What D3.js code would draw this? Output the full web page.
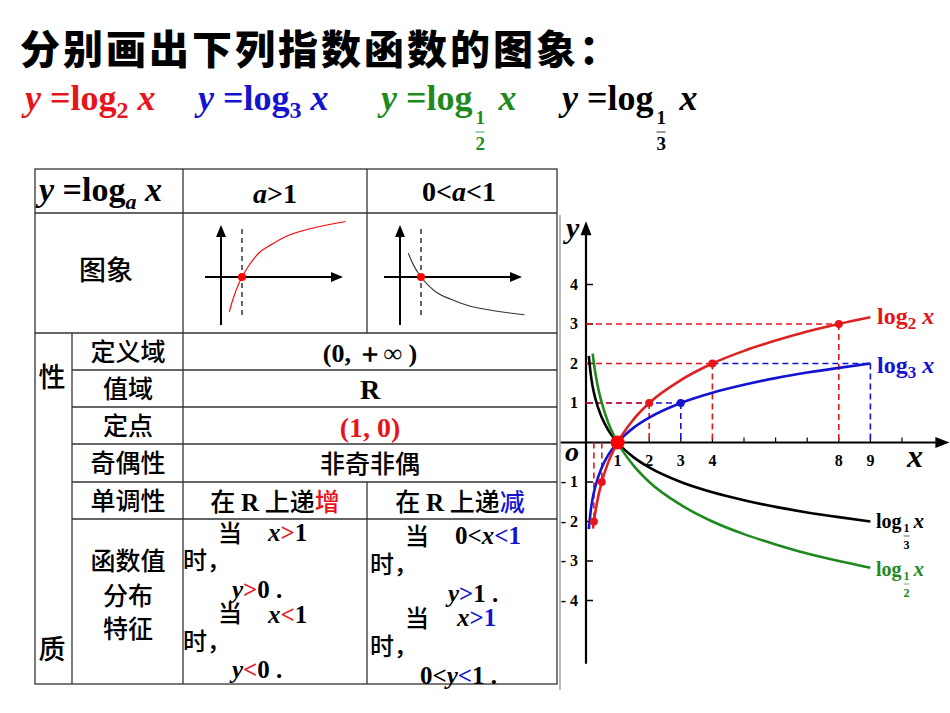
<!DOCTYPE html>
<html><head><meta charset="utf-8">
<script src="https://cdn.jsdelivr.net/npm/d3@7"></script>
<style>body{margin:0;background:#fff}svg{display:block}</style>
</head><body><svg id="c" width="950" height="713"></svg>
<script>
// ---- data ----
const xTicks=[1,2,3,4,8,9];
const xMinor=[5,6,7,10];
const yTicks=[4,3,2,1,-1,-2,-3,-4];
const log2X=[0.22,0.25,0.3,0.4,0.5,0.7,1,1.5,2,3,4,5,6,7,8,9];
const log2Y=[-2.18,-2,-1.74,-1.32,-1,-0.51,0,0.58,1,1.58,2,2.32,2.58,2.81,3,3.17];
const log3X=[0.09,0.15,0.2,0.3,0.5,0.7,1,1.5,2,3,4,5,6,7,8,9];
const log3Y=[-2.19,-1.73,-1.46,-1.1,-0.63,-0.32,0,0.37,0.63,1,1.26,1.46,1.63,1.77,1.89,2];
const logHalfX=[0.21,0.25,0.3,0.4,0.5,0.7,1,1.5,2,3,4,5,6,7,8,9];
const logHalfY=[2.25,2,1.74,1.32,1,0.51,0,-0.58,-1,-1.58,-2,-2.32,-2.58,-2.81,-3,-3.17];
const logThirdX=[0.09,0.15,0.2,0.3,0.5,0.7,1,1.5,2,3,4,5,6,7,8,9];
const logThirdY=[2.19,1.73,1.46,1.1,0.63,0.32,0,-0.37,-0.63,-1,-1.26,-1.46,-1.63,-1.77,-1.89,-2];
const redDots=[[0.25,-2],[0.5,-1],[2,1],[4,2],[8,3]];
const blueDots=[[3,1]];
const miniX=[0.45,0.55,0.7,0.85,1,1.3,1.7,2.3,3,4,5.5];
const miniY=[-1.4,-1.06,-0.64,-0.29,0,0.46,0.93,1.31,1.66,1.94,2.22];

const svg=d3.select("#c");
const SERIF="'Liberation Serif','DejaVu Serif',serif";
const CJK="'Noto Sans CJK SC',sans-serif";
const RED="#e8141b",BLUE="#1414d0",GREEN="#1e8a1e";

// ---- title ----
svg.append("text").attr("x",20).attr("y",64).attr("font-family",CJK).attr("font-weight",900)
 .attr("font-size",40).attr("letter-spacing",3).text("分别画出下列指数函数的图象：");
function formula(x,y,color,base,frac){
  const t=svg.append("text").attr("x",x).attr("y",y).attr("font-family",SERIF).attr("font-weight","bold")
    .attr("font-size",36).attr("fill",color);
  t.append("tspan").attr("font-style","italic").text("y");
  t.append("tspan").text(" =log");
  if(!frac){
    t.append("tspan").attr("font-size",24).attr("dy",8).text(base);
    t.append("tspan").attr("dy",-8).text(" ");
    t.append("tspan").attr("font-style","italic").text("x");
  } else {
    const bb=t.node().getComputedTextLength();
    svg.append("text").attr("x",x+bb+3).attr("y",y+14).attr("font-family",SERIF).attr("font-weight","bold").attr("font-size",19).attr("fill",color).text("1");
    svg.append("line").attr("x1",x+bb+3).attr("x2",x+bb+12).attr("y1",y+22).attr("y2",y+22).attr("stroke",color).attr("stroke-width",0.8);
    svg.append("text").attr("x",x+bb+3).attr("y",y+40).attr("font-family",SERIF).attr("font-weight","bold").attr("font-size",19).attr("fill",color).text(base);
    svg.append("text").attr("x",x+bb+26).attr("y",y).attr("font-family",SERIF).attr("font-weight","bold").attr("font-style","italic").attr("font-size",36).attr("fill",color).text("x");
  }
}
formula(25,110,RED,"2",false);
formula(198,110,BLUE,"3",false);
formula(381,110,GREEN,"2",true);
formula(562,110,"#000","3",true);

// ---- table ----
const rowY=[169,213,333,370,407,444,482,519,684];
const g=svg.append("g").attr("stroke","#333").attr("stroke-width",1.3);
g.append("rect").attr("x",35).attr("y",169).attr("width",522).attr("height",515).attr("fill","none");
rowY.slice(1,8).forEach((y,i)=>{
  const x0=i<2?35:72;
  g.append("line").attr("x1",x0).attr("x2",557).attr("y1",y).attr("y2",y);
});
g.append("line").attr("x1",72).attr("x2",72).attr("y1",333).attr("y2",684);
g.append("line").attr("x1",183).attr("x2",183).attr("y1",169).attr("y2",684);
g.append("line").attr("x1",367).attr("x2",367).attr("y1",169).attr("y2",333);
g.append("line").attr("x1",367).attr("x2",367).attr("y1",482).attr("y2",684);

function T(x,y,s,opt={}){
  return svg.append("text").attr("x",x).attr("y",y).attr("font-family",opt.f||CJK)
    .attr("font-weight",opt.w||"bold").attr("font-size",opt.s||24).attr("text-anchor",opt.a||"middle")
    .attr("fill",opt.c||"#000").attr("font-style",opt.i?"italic":null).text(s);
}
{const t=T(39,201,"",{f:SERIF,s:34,a:"start"});
 t.append("tspan").attr("font-style","italic").text("y");
 t.append("tspan").text(" =log");
 t.append("tspan").attr("font-size",22).attr("font-style","italic").attr("dy",8).text("a");
 t.append("tspan").attr("dy",-8).text(" ");
 t.append("tspan").attr("font-style","italic").text("x");}
{const t=T(275,203,"",{f:SERIF,s:28});t.append("tspan").attr("font-style","italic").text("a");t.append("tspan").text(">1");}
{const t=T(459,201,"",{f:SERIF,s:28});t.append("tspan").text("0<");t.append("tspan").attr("font-style","italic").text("a");t.append("tspan").text("<1");}
const CW=500;
T(106,280,"图象",{s:27,w:CW});
T(52,387,"性",{s:27,w:CW});T(52,659,"质",{s:27,w:CW});
const rowLabels=["定义域","值域","定点","奇偶性","单调性"];
rowLabels.forEach((s,i)=>T(128,(rowY[i+2]+rowY[i+3])/2+9,s,{s:25,w:CW}));
T(370,362,"(0,  ＋∞ )",{f:SERIF,s:26});
T(370,399,"R",{f:SERIF,s:28});
T(370,437,"(1, 0)",{f:SERIF,s:28,c:RED});
T(370,473,"非奇非偶",{s:25,w:CW});
{const t=T(275,511,"",{s:25,w:CW});t.append("tspan").text("在 ");t.append("tspan").attr("font-family",SERIF).attr("font-weight","bold").text("R");t.append("tspan").text(" 上递");t.append("tspan").attr("fill",RED).text("增");}
{const t=T(460,511,"",{s:25,w:CW});t.append("tspan").text("在 ");t.append("tspan").attr("font-family",SERIF).attr("font-weight","bold").text("R");t.append("tspan").text(" 上递");t.append("tspan").attr("fill",BLUE).text("减");}
T(128,570,"函数值",{s:25,w:CW});T(128,605,"分布",{s:25,w:CW});T(128,638,"特征",{s:25,w:CW});
function mixed(x,y,parts){
  const t=T(x,y,"",{f:SERIF,s:25,a:"start"});
  parts.forEach(p=>{const s=t.append("tspan").text(p[0]);if(p[1])s.attr("fill",p[1]);if(p[2])s.attr("font-style","italic");});
  return t;
}
T(218,542,"当",{s:24,a:"start",w:CW});mixed(268,541,[["x",null,1],[">",RED],["1"]]);
T(183,569,"时，",{s:24,a:"start",w:CW});mixed(232,598,[["y",null,1],[">",RED],["0 ."]]);
T(218,622,"当",{s:24,a:"start",w:CW});mixed(268,623,[["x",null,1],["<",RED],["1"]]);
T(183,650,"时，",{s:24,a:"start",w:CW});mixed(232,678,[["y",null,1],["<",RED],["0 ."]]);
T(405,545,"当",{s:24,a:"start",w:CW});mixed(455,544,[["0<"],["x",null,1],["<1",BLUE]]);
T(370,573,"时，",{s:24,a:"start",w:CW});mixed(448,602,[["y",null,1],[">",BLUE],["1 ."]]);
T(405,627,"当",{s:24,a:"start",w:CW});mixed(457,626,[["x",null,1],[">1",BLUE]]);
T(370,655,"时，",{s:24,a:"start",w:CW});mixed(420,684,[["0<"],["y",null,1],["<",BLUE],["1 ."]]);

function mini(ox,oy,color,inc){
  const xs=d3.scaleLinear().domain([0,1]).range([ox,ox+23]);
  const ys=d3.scaleLinear().domain([0,1]).range([oy,oy-(inc?25:17)]);
  const mg=svg.append("g");
  mg.append("line").attr("x1",ox-14).attr("x2",ox+122).attr("y1",oy).attr("y2",oy).attr("stroke","#000").attr("stroke-width",2);
  mg.append("path").attr("d",`M${ox+124},${oy}l-12,-5v10z`);
  mg.append("line").attr("x1",ox+2).attr("x2",ox+2).attr("y1",oy+48).attr("y2",oy-46).attr("stroke","#000").attr("stroke-width",2);
  mg.append("path").attr("d",`M${ox+2},${oy-52}l-5,12h10z`);
  mg.append("line").attr("x1",ox+23).attr("x2",ox+23).attr("y1",oy-48).attr("y2",oy+40).attr("stroke","#000").attr("stroke-dasharray","5,4").attr("stroke-width",1.2);
  const line=d3.line().x(d=>xs(d)).y((d,i)=>ys(inc?miniY[i]:-miniY[i])).curve(d3.curveMonotoneX);
  mg.append("path").attr("d",line(miniX)).attr("fill","none").attr("stroke",color).attr("stroke-width",1.1);
  mg.append("circle").attr("cx",ox+23).attr("cy",oy).attr("r",4).attr("fill","red");
}
mini(219,277,"red",true);
mini(398,277,"#333",false);

const x=d3.scaleLinear().domain([0,1]).range([586,617.6]);
const y=d3.scaleLinear().domain([0,1]).range([442.5,403]);
svg.append("line").attr("x1",560).attr("x2",560).attr("y1",215).attr("y2",690).attr("stroke","#777").attr("stroke-width",1);
svg.append("line").attr("x1",x(-0.8)).attr("x2",x(11.1)).attr("y1",y(0)).attr("y2",y(0)).attr("stroke","#000").attr("stroke-width",2.2);
svg.append("path").attr("d",`M${x(11.5)},${y(0)}l-14,-5.5v11z`);
svg.append("line").attr("x1",x(0)).attr("x2",x(0)).attr("y1",y(-5.6)).attr("y2",y(5.3)).attr("stroke","#000").attr("stroke-width",2.2);
svg.append("path").attr("d",`M${x(0)},${y(5.6)}l-5.5,14h11z`);
xTicks.concat(xMinor).forEach(v=>svg.append("line").attr("x1",x(v)).attr("x2",x(v)).attr("y1",y(0)).attr("y2",y(0)-5).attr("stroke","#000").attr("stroke-width",1.2));
yTicks.forEach(v=>svg.append("line").attr("x1",x(0)).attr("x2",x(0)+7).attr("y1",y(v)).attr("y2",y(v)).attr("stroke","#000").attr("stroke-width",1.5));
xTicks.forEach(v=>T(x(v),466,String(v),{f:SERIF,s:16}));
yTicks.forEach(v=>T(x(0)-8,y(v)+5,v<0?"- "+(-v):String(v),{f:SERIF,s:16,a:"end"}));
T(566,238,"y",{f:SERIF,s:30,i:1,a:"start"});
T(565,461,"o",{f:SERIF,s:28,i:1,a:"start"});
T(907,467,"x",{f:SERIF,s:32,i:1,a:"start"});

function dash(x1,y1,x2,y2,c){svg.append("line").attr("x1",x(x1)).attr("y1",y(y1)).attr("x2",x(x2)).attr("y2",y(y2)).attr("stroke",c).attr("stroke-width",1.6).attr("stroke-dasharray","6,4");}
dash(0,3,8,3,RED);dash(0,2,4,2,RED);dash(4,2,9,2,BLUE);dash(0,1,3,1,BLUE);dash(0,1,2,1,RED);
dash(2,1,2,0,RED);dash(4,2,4,0,RED);dash(8,3,8,0,RED);dash(3,1,3,0,BLUE);dash(9,2,9,0,BLUE);
dash(0.25,0,0.25,-2,RED);dash(0.5,0,0.5,-1,RED);

function curve(xs,ys,c){
  const l=d3.line().x(d=>x(d)).y((d,i)=>y(ys[i])).curve(d3.curveMonotoneX);
  svg.append("path").attr("d",l(xs)).attr("fill","none").attr("stroke",c).attr("stroke-width",2.6);
}
curve(logThirdX,logThirdY,"#000");
curve(logHalfX,logHalfY,GREEN);
curve(log3X,log3Y,BLUE);
curve(log2X,log2Y,"#dd2222");
redDots.forEach(d=>svg.append("circle").attr("cx",x(d[0])).attr("cy",y(d[1])).attr("r",4).attr("fill",RED));
blueDots.forEach(d=>svg.append("circle").attr("cx",x(d[0])).attr("cy",y(d[1])).attr("r",4).attr("fill",BLUE));
svg.append("circle").attr("cx",x(1)).attr("cy",y(0)).attr("r",7).attr("fill","red");

function clabel(px,py,c,base,frac){
  const t=T(px,py,"",{f:SERIF,s:frac?20:24,c:c,a:"start"});
  t.append("tspan").text("log");
  if(!frac){t.append("tspan").attr("font-size",17).attr("dy",5).text(base);t.append("tspan").attr("dy",-5).text(" ");t.append("tspan").attr("font-style","italic").text("x");}
  else{
    const w=t.node().getComputedTextLength();
    T(px+w+5,py+4,"1",{f:SERIF,s:12,c:c});
    svg.append("line").attr("x1",px+w+2).attr("x2",px+w+8).attr("y1",py+8).attr("y2",py+8).attr("stroke",c).attr("stroke-width",0.6);
    T(px+w+5,py+21,base,{f:SERIF,s:12,c:c});
    T(px+w+12,py,"",{f:SERIF,s:21,c:c,a:"start"}).append("tspan").attr("font-style","italic").text(" x");
  }
}
clabel(877,324,RED,"2",false);
clabel(877,373,BLUE,"3",false);
clabel(876,528,"#000","3",true);
clabel(876,576,GREEN,"2",true);
</script></body></html>
